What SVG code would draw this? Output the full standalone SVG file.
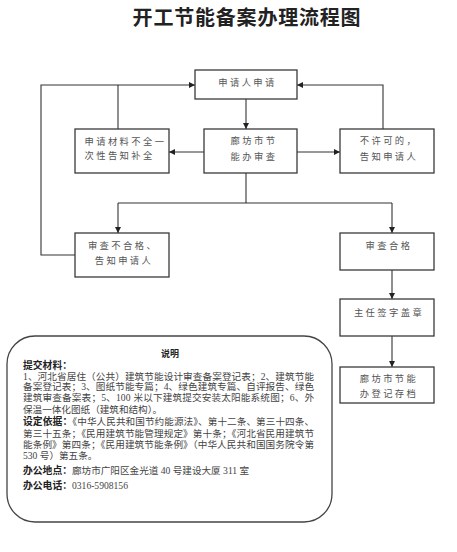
<svg xmlns="http://www.w3.org/2000/svg" width="457" height="552" viewBox="0 0 457 552">
<style>
.bx{fill:#fff;stroke:#3a3a3a;stroke-width:1.3}
.t{font-family:"Noto Sans CJK SC","Noto Sans",sans-serif;font-size:9.3px;fill:#555;letter-spacing:2.4px}
.c{text-anchor:middle}
.ln{fill:none;stroke:#333;stroke-width:1.1}
.n{font-family:"Liberation Serif","Noto Sans CJK SC",serif;font-size:9.6px;fill:#444}
.b{font-family:"Noto Sans CJK SC",sans-serif;font-weight:bold;fill:#222}
</style>
<defs>
<marker id="ah" viewBox="0 0 10 10" refX="10" refY="5" markerWidth="6" markerHeight="6" markerUnits="userSpaceOnUse" orient="auto">
<path d="M0,0 L10,5 L0,10 z" fill="#222"/>
</marker>
</defs>
<rect width="457" height="552" fill="#fff"/>
<text x="247" y="25" text-anchor="middle" font-family="Noto Sans CJK SC,sans-serif" font-size="20" font-weight="bold" letter-spacing="0.8" fill="#222">开工节能备案办理流程图</text>

<g id="connectors">
<path class="ln" d="M75,255 H41 V85 H195" marker-end="url(#ah)"/>
<path class="ln" d="M118,129 V85"/>
<path class="ln" d="M383,129 V85 H297" marker-end="url(#ah)"/>
<path class="ln" d="M246,99 V129" marker-end="url(#ah)"/>
<path class="ln" d="M204,152 H169" marker-end="url(#ah)"/>
<path class="ln" d="M297,152 H340" marker-end="url(#ah)"/>
<path class="ln" d="M246,173 V203"/>
<path class="ln" d="M118,203 H392"/>
<path class="ln" d="M118,203 V233" marker-end="url(#ah)"/>
<path class="ln" d="M392,203 V233" marker-end="url(#ah)"/>
<path class="ln" d="M392,270 V299" marker-end="url(#ah)"/>
<path class="ln" d="M392,336 V367" marker-end="url(#ah)"/>
</g>

<g id="apply">
<rect class="bx" x="195" y="70" width="102" height="29"/>
<text class="t c" x="247.5" y="86">申请人申请</text>
</g>
<g id="incomplete">
<rect class="bx" x="75" y="129" width="94" height="44"/>
<text class="t" x="84.5" y="145">申请材料不全一</text>
<text class="t" x="84.5" y="159">次性告知补全</text>
</g>
<g id="review">
<rect class="bx" x="204" y="129" width="93" height="44"/>
<text class="t c" x="254" y="144">廊坊市节</text>
<text class="t c" x="254" y="160">能办审查</text>
</g>
<g id="reject">
<rect class="bx" x="340" y="129" width="94" height="44"/>
<text class="t c" x="389" y="144">不许可的，</text>
<text class="t c" x="389" y="160">告知申请人</text>
</g>
<g id="fail">
<rect class="bx" x="75" y="233" width="94" height="44"/>
<text class="t c" x="123" y="249">审查不合格、</text>
<text class="t c" x="124" y="264">告知申请人</text>
</g>
<g id="pass">
<rect class="bx" x="340" y="233" width="94" height="37"/>
<text class="t c" x="389" y="249">审查合格</text>
</g>
<g id="sign">
<rect class="bx" x="340" y="299" width="94" height="37"/>
<text class="t c" x="389" y="316">主任签字盖章</text>
</g>
<g id="archive">
<rect class="bx" x="340" y="367" width="94" height="36"/>
<text class="t c" x="389" y="382">廊坊市节能</text>
<text class="t c" x="389" y="397">办登记存档</text>
</g>

<g id="note">
<rect x="7" y="336" width="325" height="186" rx="28" ry="28" fill="#fff" stroke="#444" stroke-width="1.3"/>
<text class="b" x="170" y="357" text-anchor="middle" font-size="9">说明</text>
<text class="b" x="23" y="369" font-size="9.8">提交材料：</text>
<text class="n" x="23" y="379.5" textLength="291" lengthAdjust="spacing">1、河北省居住（公共）建筑节能设计审查备案登记表；2、建筑节能</text>
<text class="n" x="23" y="390" textLength="291" lengthAdjust="spacing">备案登记表；3、图纸节能专篇；4、绿色建筑专篇、自评报告、绿色</text>
<text class="n" x="23" y="401" textLength="291" lengthAdjust="spacing">建筑审查备案表；5、100 米以下建筑提交安装太阳能系统图；6、外</text>
<text class="n" x="23" y="412.5">保温一体化图纸（建筑和结构）。</text>
<text class="n" x="23" y="425" textLength="291" lengthAdjust="spacing"><tspan class="b" font-size="9.8">设定依据：</tspan>《中华人民共和国节约能源法》、第十二条、第三十四条、</text>
<text class="n" x="23" y="436.5" textLength="291" lengthAdjust="spacing">第三十五条；《民用建筑节能管理规定》第十条；《河北省民用建筑节</text>
<text class="n" x="23" y="447.5" textLength="291" lengthAdjust="spacing">能条例》第四条；《民用建筑节能条例》（中华人民共和国国务院令第</text>
<text class="n" x="23" y="459">530 号）第五条。</text>
<text class="n" x="23" y="473.5"><tspan class="b" font-size="9.8">办公地点：</tspan>廊坊市广阳区金光道 40 号建设大厦 311 室</text>
<text class="n" x="23" y="488.5"><tspan class="b" font-size="9.8">办公电话：</tspan>0316-5908156</text>
</g>
</svg>
